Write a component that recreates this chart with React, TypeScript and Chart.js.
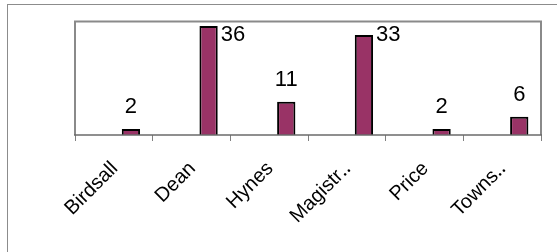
import React, { useEffect, useRef } from "react";
import { Chart, registerables } from "chart.js";

Chart.register(...registerables);

const categories = ["Birdsall", "Dean", "Hynes", "Magistr‥", "Price", "Towns‥"];
const seriesA: (number | null)[] = [null, null, null, null, null, null];
const seriesB: (number | null)[] = [null, null, null, null, null, null];
const seriesC: number[] = [2, 36, 11, 33, 2, 6];
const yMin = 0;
const yMax = 37.5;

const FONT = "'Liberation Sans', Arial, Helvetica, sans-serif";

const plotFramePlugin = {
  id: "plotFrame",
  afterDatasetsDraw(chart: any) {
    const { ctx, chartArea } = chart;
    const { left, top, right, bottom } = chartArea;
    ctx.save();
    ctx.strokeStyle = "#8a8a8a";
    ctx.lineWidth = 2;
    ctx.beginPath();
    ctx.moveTo(left, bottom);
    ctx.lineTo(left, top);
    ctx.lineTo(right, top);
    ctx.lineTo(right, bottom);
    ctx.stroke();
    ctx.strokeStyle = "#6a6a6a";
    ctx.lineWidth = 1.5;
    ctx.beginPath();
    ctx.moveTo(left - 1, bottom);
    ctx.lineTo(right + 1, bottom);
    ctx.stroke();
    ctx.restore();
  },
};

const dataLabelPlugin = {
  id: "dataLabels",
  afterDraw(chart: any) {
    const { ctx, chartArea } = chart;
    const meta = chart.getDatasetMeta(2);
    const ds = chart.data.datasets[2];
    ctx.save();
    ctx.font = `22px ${FONT}`;
    ctx.fillStyle = "#000";
    ctx.textBaseline = "alphabetic";
    meta.data.forEach((bar: any, i: number) => {
      const v = ds.data[i];
      if (v === null || v === undefined) return;
      const { x, y, width } = bar.getProps(["x", "y", "width"], true);
      const text = String(v);
      const baseline = y - 16;
      if (baseline - 16 < chartArea.top + 3) {
        ctx.textAlign = "left";
        ctx.fillText(text, x + width / 2 + 3, chartArea.top + 19.5);
      } else {
        ctx.textAlign = "center";
        ctx.fillText(text, x, baseline);
      }
    });
    ctx.restore();
  },
};

export default function App() {
  const ref = useRef<HTMLCanvasElement | null>(null);

  useEffect(() => {
    if (!ref.current) return;
    const chart = new Chart(ref.current, {
      type: "bar",
      data: {
        labels: categories,
        datasets: [
          { label: "Series1", data: seriesA, backgroundColor: "#993366", borderColor: "#000", borderWidth: 2 },
          { label: "Series2", data: seriesB, backgroundColor: "#993366", borderColor: "#000", borderWidth: 2 },
          { label: "Series3", data: seriesC, backgroundColor: "#993366", borderColor: "#000", borderWidth: 2 },
        ],
      },
      options: {
        responsive: false,
        animation: false,
        events: [],
        layout: { padding: { left: 75, right: 16, top: 21.5, bottom: 0 } },
        datasets: {
          bar: { categoryPercentage: 0.66, barPercentage: 1.07 },
        },
        plugins: {
          legend: { display: false },
          tooltip: { enabled: false },
          title: { display: false },
        },
        scales: {
          x: {
            type: "category",
            afterFit: (scale: any) => {
              scale.height = 117;
            },
            grid: {
              offset: true,
              drawOnChartArea: false,
              drawTicks: true,
              tickLength: 6,
              color: "#808080",
              lineWidth: 1,
            },
            border: { display: false },
            ticks: {
              autoSkip: false,
              minRotation: 45,
              maxRotation: 45,
              padding: 16,
              labelOffset: 1,
              color: "#000",
              font: { family: FONT, size: 20 },
            },
          },
          y: {
            display: false,
            min: yMin,
            max: yMax,
          },
        },
      },
      plugins: [plotFramePlugin, dataLabelPlugin],
    });
    return () => chart.destroy();
  }, []);

  return (
    <div style={{ position: "fixed", left: 0, top: 0, width: 557, height: 252, overflow: "hidden", background: "#fff" }}>
      <div
        style={{
          position: "absolute",
          left: 7,
          top: 4,
          width: 620,
          height: 320,
          border: "1px solid #8c8c8c",
          boxSizing: "border-box",
        }}
      />
      <canvas ref={ref} width={557} height={252} style={{ position: "absolute", left: 0, top: 0 }} />
    </div>
  );
}
